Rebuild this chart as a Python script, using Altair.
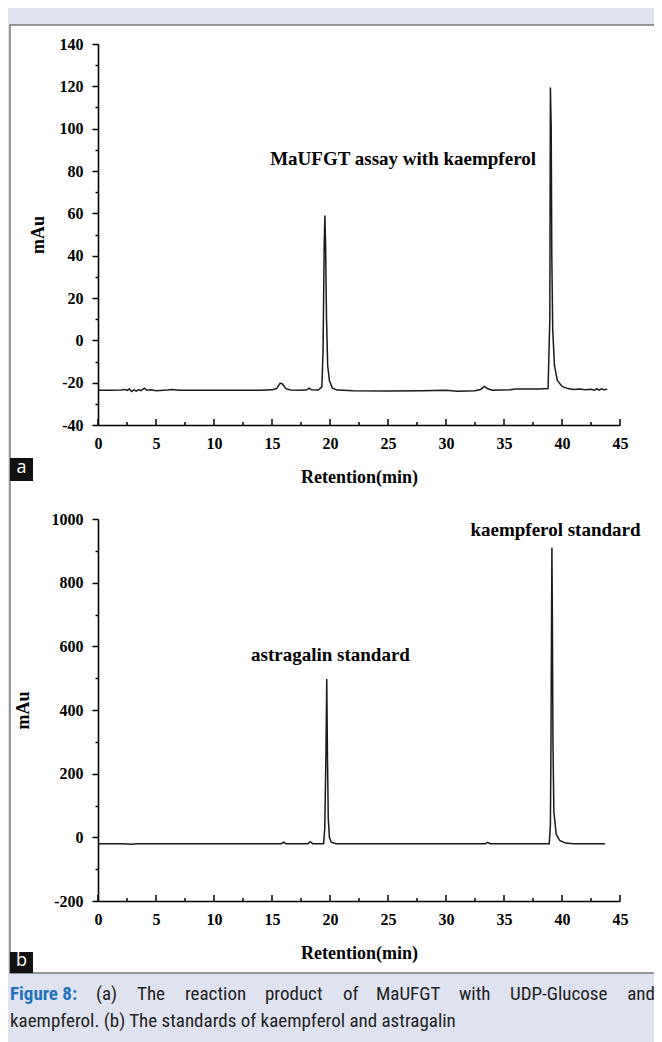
import altair as alt
import pandas as pd

# ---------------- data ----------------
# Panel (a): MaUFGT assay with kaempferol
time_a = [0.0, 1.0, 2.0, 2.3, 2.5, 2.7, 2.9, 3.1, 3.3, 3.5, 3.7, 4.0, 4.2, 4.6, 5.0, 6.0, 6.4, 7.0,
          9.0, 12.0, 14.0, 15.0, 15.4, 15.7, 15.9, 16.2, 16.6, 17.5, 18.0, 18.2, 18.4, 19.0, 19.3,
          19.4, 19.5, 19.56, 19.62, 19.7, 19.8, 19.95, 20.2, 20.6, 22.0, 25.0, 28.0, 30.0, 31.0,
          32.5, 33.0, 33.3, 33.6, 34.0, 35.5, 36.0, 38.0, 38.8, 38.95, 39.0, 39.07, 39.12, 39.2,
          39.35, 39.6, 40.0, 40.5, 41.0, 41.5, 42.0, 42.5, 42.8, 43.0, 43.2, 43.4, 43.6, 43.9]
signal_a = [-23.6, -23.6, -23.5, -23.2, -23.7, -23.0, -24.2, -23.4, -24.0, -23.3, -23.8, -22.6,
            -23.6, -23.4, -23.8, -23.5, -23.2, -23.6, -23.6, -23.6, -23.6, -23.4, -22.8, -20.2,
            -20.6, -22.8, -23.5, -23.6, -23.4, -22.6, -23.4, -23.5, -22.0, -5.0, 45.0, 59.0, 45.0,
            10.0, -12.0, -19.0, -22.5, -23.5, -23.8, -23.9, -23.8, -23.6, -24.0, -23.8, -23.2,
            -21.8, -22.9, -23.6, -23.4, -23.0, -23.0, -22.8, 10.0, 119.5, 100.0, 40.0, 5.0, -12.0,
            -19.0, -21.8, -22.8, -23.2, -23.0, -23.4, -23.1, -23.6, -22.8, -23.5, -22.9, -23.3,
            -23.1]

# Panel (b): standards
time_b = [0.0, 2.0, 3.0, 3.3, 5.0, 10.0, 15.0, 15.8, 16.0, 16.2, 18.1, 18.3, 18.5, 19.45, 19.55,
          19.65, 19.72, 19.78, 19.85, 19.95, 20.1, 20.5, 25.0, 30.0, 33.4, 33.6, 33.8, 38.9, 39.0,
          39.05, 39.1, 39.13, 39.17, 39.22, 39.3, 39.5, 39.8, 40.3, 41.0, 43.7]
signal_b = [-20, -20, -22, -20, -20, -20, -20, -20, -15, -20, -20, -14, -20, -20, 30, 260, 497,
            260, 60, 0, -15, -20, -20, -20, -20, -16, -20, -20, 40, 300, 690, 910, 690, 300, 80,
            10, -10, -18, -20, -20]

# annotations (data coordinates)
note_a_text = ["MaUFGT assay with kaempferol"]
note_a_t = [26.3]
note_a_v = [85.7]
note_b_text = ["astragalin standard", "kaempferol standard"]
note_b_t = [20.04, 39.44]
note_b_v = [573, 965]

# tick values
x_ticks = [0, 2.5, 5, 7.5, 10, 12.5, 15, 17.5, 20, 22.5, 25, 27.5, 30, 32.5, 35, 37.5, 40, 42.5, 45]
x_major = [0, 5, 10, 15, 20, 25, 30, 35, 40, 45]
x_minor = [2.5, 7.5, 12.5, 17.5, 22.5, 27.5, 32.5, 37.5, 42.5]
ya_ticks = [-40, -30, -20, -10, 0, 10, 20, 30, 40, 50, 60, 70, 80, 90, 100, 110, 120, 130, 140]
yb_ticks = [-200, -100, 0, 100, 200, 300, 400, 500, 600, 700, 800, 900, 1000]

# caption (line 1 is justified in the original, so it is set word by word)
caption_head = "Figure 8:"
caption_words1 = ["(a)", "The", "reaction", "product", "of", "MaUFGT", "with", "UDP-Glucose", "and"]
caption_line2 = "kaempferol. (b) The standards of  kaempferol and astragalin"

# ---------------- layout ----------------
W, H = 646, 1034
SERIF = "Liberation Serif"
CAPFONT = "Liberation Sans Narrow, Arial Narrow, Roboto Condensed, Roboto"
BG = "#dfe3f0"
word_x = [88, 129, 177, 257, 335, 368, 451, 502, 647]   # left edges (last one: right edge)

df_a = pd.DataFrame({"t": time_a, "v": signal_a})
df_b = pd.DataFrame({"t": time_b, "v": signal_b})
na = pd.DataFrame({"t": note_a_t, "v": note_a_v, "label": note_a_text})
nb = pd.DataFrame({"t": note_b_t, "v": note_b_v, "label": note_b_text})
dmaj = pd.DataFrame({"t": x_major})
dmin = pd.DataFrame({"t": x_minor})


def axis(orient, offset, values, title, label_step, title_pad, ticks=True):
    return alt.Axis(
        orient=orient, offset=offset, values=values, title=title, grid=False, zindex=2,
        labelExpr=f"datum.value % {label_step} === 0 ? toString(datum.value) : ''",
        tickSize={"condition": {"test": f"datum.value % {label_step} === 0", "value": 6}, "value": 3},
        ticks=ticks,
        labelOverlap=False, labelFlush=False,
        domainColor="black", tickColor="black", domainWidth=1.6, tickWidth=1.5,
        labelFont=SERIF, labelFontWeight="bold", labelFontSize=16, labelColor="black",
        labelPadding=10 if orient == "bottom" else 9,
        titleFont=SERIF, titleFontWeight="bold", titleFontSize=18, titleColor="black",
        titlePadding=title_pad,
    )


def panel(df, notes, y_dom, y_rng, x_off, ya, ystep, ytp):
    xs = alt.Scale(domain=[0, 45], range=[90, 612], nice=False, zero=False)
    ys = alt.Scale(domain=y_dom, range=y_rng, nice=False, zero=False)
    xa = axis("bottom", x_off, x_ticks, "Retention(min)", 5, 17, ticks=False)
    yax = axis("left", -90, ya, "mAu", ystep, ytp)
    base_y = y_rng[0]
    line = alt.Chart(df).mark_line(color="#1a1a1a", strokeWidth=1.5).encode(
        x=alt.X("t:Q", scale=xs, axis=xa),
        y=alt.Y("v:Q", scale=ys, axis=yax),
    )
    txt = alt.Chart(notes).mark_text(
        font=SERIF, fontWeight="bold", fontSize=19, color="black", baseline="middle", align="center"
    ).encode(
        x=alt.X("t:Q", scale=xs, axis=xa),
        y=alt.Y("v:Q", scale=ys, axis=yax),
        text="label:N",
    )
    # x ticks point into the plot, as in the original
    tmaj = alt.Chart(dmaj).mark_rule(color="black", strokeWidth=1.5).encode(
        x=alt.X("t:Q", scale=xs, axis=xa), y=alt.value(base_y), y2=alt.value(base_y - 6))
    tmin = alt.Chart(dmin).mark_rule(color="black", strokeWidth=1.5).encode(
        x=alt.X("t:Q", scale=xs, axis=xa), y=alt.value(base_y), y2=alt.value(base_y - 3))
    return alt.layer(line, txt, tmaj, tmin)


panel_a = panel(df_a, na, [-40, 140], [417, 36], 417 - H, ya_ticks, 20, 12)
panel_b = panel(df_b, nb, [-200, 1000], [893, 511], 893 - H, yb_ticks, 200, 19)

one = pd.DataFrame({"k": [0]})
frame = alt.Chart(one).mark_rect(
    fill="white", stroke="#7a7a7a", strokeWidth=1.5
).encode(x=alt.value(2), x2=alt.value(649), y=alt.value(17), y2=alt.value(965))

tag_a_box = alt.Chart(one).mark_rect(fill="#111111").encode(
    x=alt.value(2), x2=alt.value(25), y=alt.value(450), y2=alt.value(473))
tag_a_txt = alt.Chart(one).mark_text(
    text="a", font="Open Sans", fontSize=18, color="white", align="center", baseline="middle"
).encode(x=alt.value(13.5), y=alt.value(460))
tag_b_box = alt.Chart(one).mark_rect(fill="#111111").encode(
    x=alt.value(2), x2=alt.value(25), y=alt.value(944), y2=alt.value(965))
tag_b_txt = alt.Chart(one).mark_text(
    text="b", font="Open Sans", fontSize=18, color="white", align="center", baseline="middle"
).encode(x=alt.value(13.5), y=alt.value(953))

cap_head = alt.Chart(one).mark_text(
    text=caption_head, font=CAPFONT, fontWeight="bold", fontSize=19, color="#2372b9",
    align="left", baseline="middle"
).encode(x=alt.value(2), y=alt.value(986))

cap_words = []
for i, (w, xw) in enumerate(zip(caption_words1, word_x)):
    last = i == len(caption_words1) - 1
    cap_words.append(alt.Chart(one).mark_text(
        text=w, font=CAPFONT, fontSize=19, color="#222222",
        align="right" if last else "left", baseline="middle"
    ).encode(x=alt.value(xw), y=alt.value(986)))

cap_l2 = alt.Chart(one).mark_text(
    text=caption_line2, font=CAPFONT, fontSize=19, color="#222222",
    align="left", baseline="middle"
).encode(x=alt.value(2), y=alt.value(1013))

chart = alt.layer(
    frame, panel_a, panel_b, tag_a_box, tag_a_txt, tag_b_box, tag_b_txt, cap_head, *cap_words, cap_l2
).resolve_scale(x="independent", y="independent").properties(
    width=W, height=H, autosize=alt.AutoSizeParams(type="none"), padding=0, background=BG
).configure_view(stroke=None)

chart.save("out.html", embed_options={"renderer": "svg", "actions": False})
